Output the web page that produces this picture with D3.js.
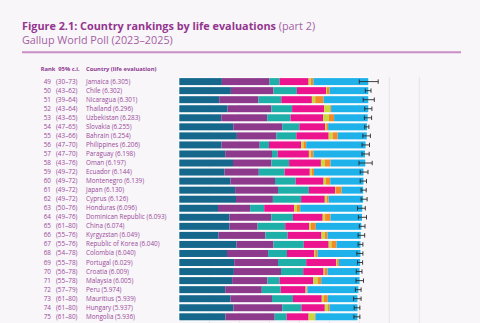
<!DOCTYPE html>
<html>
<head>
<meta charset="utf-8">
<script src="https://cdn.jsdelivr.net/npm/d3@7"></script>
<style>
  html, body { margin: 0; padding: 0; background: #f8f6f9; }
  svg { display: block; font-family: "Open Sans", sans-serif; }
</style>
</head>
<body>
<div id="chart"></div>
<script>
// data
var ranks = [49, 50, 51, 52, 53, 54, 55, 56, 57, 58, 59, 60, 61, 62, 63, 64, 65, 66, 67, 68, 69, 70, 71, 72, 73, 74, 75];
var ciRanks = ["30–73", "43–62", "39–64", "43–64", "43–65", "47–65", "43–66", "47–70", "47–70", "43–76",
  "49–72", "49–72", "49–72", "49–72", "50–76", "49–76", "61–80", "55–76", "55–76", "54–78",
  "55–78", "56–78", "55–78", "57–79", "61–80", "61–80", "61–80"];
var countries = ["Jamaica", "Chile", "Nicaragua", "Thailand", "Uzbekistan", "Slovakia", "Bahrain", "Philippines",
  "Paraguay", "Oman", "Ecuador", "Montenegro", "Japan", "Cyprus", "Honduras", "Dominican Republic", "China",
  "Kyrgyzstan", "Republic of Korea", "Colombia", "Portugal", "Croatia", "Malaysia", "Peru", "Mauritius",
  "Hungary", "Mongolia"];
var scores = [6.305, 6.302, 6.301, 6.296, 6.283, 6.255, 6.254, 6.206, 6.198, 6.197, 6.144, 6.139, 6.130,
  6.126, 6.096, 6.093, 6.074, 6.049, 6.040, 6.040, 6.029, 6.009, 6.005, 5.974, 5.939, 5.937, 5.936];

var gdp        = [1.42, 1.72, 1.33, 1.61, 1.40, 1.80, 1.92, 1.41, 1.53, 1.79, 1.51, 1.71, 1.86, 1.89, 1.29, 1.67, 1.67, 1.31, 1.91, 1.59, 1.83, 1.82, 1.76, 1.53, 1.71, 1.80, 1.54];
var social     = [1.59, 1.42, 1.31, 1.46, 1.53, 1.63, 1.32, 1.27, 1.56, 1.28, 1.14, 1.48, 1.43, 1.23, 1.07, 1.40, 0.94, 1.56, 1.23, 1.37, 1.46, 1.57, 1.18, 1.22, 1.38, 1.63, 1.64];
var health     = [0.33, 0.78, 0.76, 0.69, 0.78, 0.57, 0.66, 0.31, 0.19, 0.59, 0.86, 0.69, 1.03, 0.94, 0.47, 0.72, 0.92, 0.74, 1.01, 0.63, 0.94, 0.74, 0.40, 0.63, 0.70, 0.64, 0.40];
var freedom    = [0.97, 0.97, 1.02, 1.07, 1.09, 0.86, 1.08, 1.07, 1.04, 1.06, 0.84, 0.93, 0.87, 0.79, 1.00, 0.99, 0.80, 1.13, 0.83, 0.91, 1.00, 0.68, 1.13, 0.83, 0.96, 0.78, 0.73];
var generosity = [0.07, 0.03, 0.11, 0.20, 0.19, 0.04, 0.13, 0.08, 0.06, 0.13, 0.06, 0.08, 0.02, 0.06, 0.09, 0.08, 0.06, 0.11, 0.09, 0.03, 0.03, 0.03, 0.14, 0.03, 0.07, 0.10, 0.20];
var corruption = [0.09, 0.09, 0.28, 0.03, 0.17, 0.06, 0.17, 0.09, 0.09, 0.19, 0.08, 0.14, 0.20, 0.07, 0.11, 0.18, 0.16, 0.09, 0.17, 0.08, 0.06, 0.10, 0.12, 0.03, 0.13, 0.06, 0.03];
var dystopia   = [1.83, 1.29, 1.49, 1.24, 1.12, 1.30, 0.97, 1.98, 1.72, 1.16, 1.65, 1.11, 0.72, 1.15, 2.07, 1.05, 1.52, 1.11, 0.80, 1.43, 0.71, 1.07, 1.28, 1.70, 0.99, 0.93, 1.40];
var ciLow      = [6.00, 6.20, 6.13, 6.18, 6.17, 6.18, 6.12, 6.09, 6.09, 5.99, 6.03, 6.03, 6.06, 6.06, 5.94, 5.97, 6.00, 5.96, 5.96, 5.92, 5.94, 5.90, 5.89, 5.87, 5.81, 5.83, 5.82];
var ciHigh     = [6.63, 6.39, 6.50, 6.42, 6.41, 6.32, 6.37, 6.34, 6.33, 6.43, 6.29, 6.24, 6.23, 6.26, 6.20, 6.24, 6.19, 6.18, 6.12, 6.12, 6.11, 6.09, 6.14, 6.06, 6.06, 6.02, 6.02];

var factors = ["gdp", "social", "health", "freedom", "generosity", "corruption", "dystopia"];
var colours = ["#15688c", "#8e3a8c", "#1eafa9", "#ec148e", "#c9d83a", "#f38a29", "#1fb1ea"];

var width = 480, height = 323;

var rows = countries.map(function(c, i) {
  return {rank: ranks[i], ci: ciRanks[i], country: c, score: scores[i],
    gdp: gdp[i], social: social[i], health: health[i], freedom: freedom[i],
    generosity: generosity[i], corruption: corruption[i], dystopia: dystopia[i],
    lo: ciLow[i], hi: ciHigh[i]};
});

var svg = d3.select("#chart").append("svg")
  .attr("width", width)
  .attr("height", height);

// title block
var title = svg.append("text")
  .attr("x", 22)
  .attr("y", 29.5)
  .attr("font-size", 10.85);
title.append("tspan")
  .attr("font-weight", 700)
  .attr("fill", "#94358f")
  .text("Figure 2.1: Country rankings by life evaluations");
title.append("tspan")
  .attr("fill", "#a45ea3")
  .text(" (part 2)");

svg.append("text")
  .attr("x", 22)
  .attr("y", 43.5)
  .attr("font-size", 10.8)
  .attr("fill", "#a45ea3")
  .text("Gallup World Poll (2023–2025)");

svg.append("line")
  .attr("x1", 22).attr("x2", 461)
  .attr("y1", 52.3).attr("y2", 52.3)
  .attr("stroke", "#c88ec5")
  .attr("stroke-width", 2);

var x = d3.scaleLinear().domain([0, 8]).range([179.3, 419.3]);
var y = d3.scalePoint().domain(countries).range([81.6, 316.8]);
var barH = 7;

// grid
svg.append("g").selectAll("line")
  .data(x.ticks(8).filter(function(d) { return d > 0; }))
  .join("line")
  .attr("x1", function(d) { return x(d); })
  .attr("x2", function(d) { return x(d); })
  .attr("y1", 77)
  .attr("y2", height)
  .attr("stroke", "#e6dde8")
  .attr("stroke-width", 0.8);

// column headers
var head = svg.append("g")
  .attr("font-size", 5.8)
  .attr("font-weight", 700)
  .attr("fill", "#8e3990");
head.append("text").attr("x", 40.7).attr("y", 71).text("Rank");
head.append("text").attr("x", 58.3).attr("y", 71).text("95% c.i.");
head.append("text").attr("x", 86).attr("y", 71).text("Country (life evaluation)");

// row labels
var labels = svg.append("g")
  .attr("font-size", 6.35)
  .attr("fill", "#9a4a9a");
labels.selectAll(".rank")
  .data(rows)
  .join("text")
  .attr("class", "rank")
  .attr("x", 51)
  .attr("y", function(d) { return y(d.country) + 2; })
  .attr("text-anchor", "end")
  .text(function(d) { return d.rank; });
labels.selectAll(".ci")
  .data(rows)
  .join("text")
  .attr("class", "ci")
  .attr("x", 56)
  .attr("y", function(d) { return y(d.country) + 2; })
  .text(function(d) { return "(" + d.ci + ")"; });
labels.selectAll(".name")
  .data(rows)
  .join("text")
  .attr("class", "name")
  .attr("x", 86)
  .attr("y", function(d) { return y(d.country) + 2; })
  .text(function(d) { return d.country + " (" + d.score.toFixed(3) + ")"; });

// bars
var stack = d3.stack().keys(factors)(rows);

svg.append("g").selectAll("rect")
  .data(rows)
  .join("rect")
  .attr("x", x(0) - 1)
  .attr("y", function(d) { return y(d.country) - barH / 2 - 0.7; })
  .attr("width", function(d) { return x(d.score) - x(0) + 2; })
  .attr("height", barH + 1.4)
  .attr("fill", "#ffffff");

svg.append("g").selectAll("g")
  .data(stack)
  .join("g")
  .attr("fill", function(d, i) { return colours[i]; })
  .selectAll("rect")
  .data(function(d) { return d; })
  .join("rect")
  .attr("x", function(d) { return x(d[0]); })
  .attr("y", function(d) { return y(d.data.country) - barH / 2; })
  .attr("width", function(d) { return Math.max(0, x(d[1]) - x(d[0])); })
  .attr("height", barH);

// confidence whiskers
var whisk = svg.append("g")
  .attr("stroke", "#2b2b2b")
  .attr("stroke-width", 0.9);
whisk.selectAll(".bar")
  .data(rows)
  .join("line")
  .attr("x1", function(d) { return x(d.lo); })
  .attr("x2", function(d) { return x(d.hi); })
  .attr("y1", function(d) { return y(d.country); })
  .attr("y2", function(d) { return y(d.country); });
whisk.selectAll(".capL")
  .data(rows)
  .join("line")
  .attr("x1", function(d) { return x(d.lo); })
  .attr("x2", function(d) { return x(d.lo); })
  .attr("y1", function(d) { return y(d.country) - 2.2; })
  .attr("y2", function(d) { return y(d.country) + 2.2; });
whisk.selectAll(".capR")
  .data(rows)
  .join("line")
  .attr("x1", function(d) { return x(d.hi); })
  .attr("x2", function(d) { return x(d.hi); })
  .attr("y1", function(d) { return y(d.country) - 2.2; })
  .attr("y2", function(d) { return y(d.country) + 2.2; });
</script>
</body>
</html>
